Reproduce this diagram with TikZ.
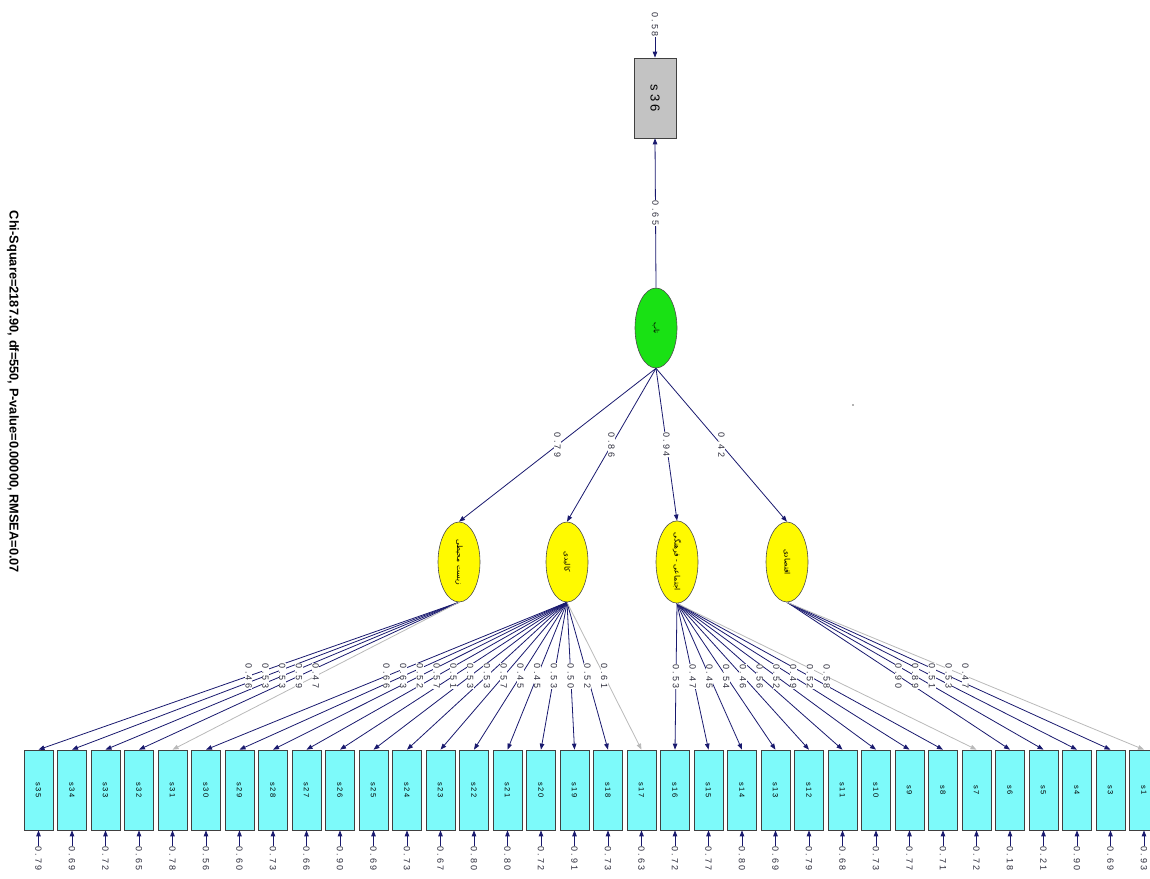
\documentclass[tikz,border=0pt]{standalone}
\usepackage{fontspec}
\usepackage{graphicx}
\setmainfont{Liberation Sans}
\newfontfamily\lis[LetterSpace=25]{Liberation Sans}
\newfontfamily\fa[Script=Arabic]{DejaVu Sans}
\TeXXeTstate=1
\usetikzlibrary{shapes.geometric,arrows.meta}

\definecolor{pathblue}{RGB}{25,25,110}
\definecolor{fixedgray}{RGB}{185,185,185}
\definecolor{latgreen}{RGB}{25,225,20}
\definecolor{latyellow}{RGB}{255,250,0}
\definecolor{obscyan}{RGB}{125,250,250}
\definecolor{obsgray}{RGB}{195,195,195}
\definecolor{numtext}{RGB}{45,45,60}

\newcommand{\boxfont}{\lis\fontsize{7.5}{7.5}\selectfont}
\newcommand{\latfont}{\fa\fontsize{7.5}{7.5}\selectfont}

\tikzset{
  free/.style={pathblue, line width=0.8pt, -{Triangle[length=6pt,width=4.5pt]}},
  fixd/.style={fixedgray, line width=0.8pt, -{Triangle[length=6pt,width=4.5pt]}},
  lab/.style={rotate=-90, fill=white, inner sep=0.5pt, text=numtext,
              font=\lis\fontsize{9}{9}\selectfont},
  lv/.style={ellipse, draw=black!70, line width=0.6pt, minimum width=42pt,
             minimum height=80pt, inner sep=0pt},
  ov/.style={rectangle, draw=black!75, line width=0.7pt, fill=obscyan,
             minimum width=29pt, minimum height=80pt, inner sep=0pt}
}

% indicator / factor / loading / error variance / path style
\def\indicators{35/env/0.46/0.79/free, 34/env/0.53/0.69/free, 33/env/0.53/0.72/free,
 32/env/0.59/0.65/free, 31/env/0.47/0.78/fixd,
 30/phys/0.66/0.56/free, 29/phys/0.63/0.60/free, 28/phys/0.52/0.73/free,
 27/phys/0.57/0.66/free, 26/phys/0.51/0.90/free, 25/phys/0.53/0.69/free,
 24/phys/0.53/0.73/free, 23/phys/0.57/0.67/free, 22/phys/0.45/0.80/free,
 21/phys/0.45/0.80/free, 20/phys/0.53/0.72/free, 19/phys/0.50/0.91/free,
 18/phys/0.52/0.73/free, 17/phys/0.61/0.63/fixd,
 16/soc/0.53/0.72/free, 15/soc/0.47/0.77/free, 14/soc/0.45/0.80/free,
 13/soc/0.54/0.69/free, 12/soc/0.46/0.79/free, 11/soc/0.56/0.68/free,
 10/soc/0.52/0.73/free, 9/soc/0.49/0.77/free, 8/soc/0.52/0.71/free,
 7/soc/0.58/0.72/fixd,
 6/eco/0.90/0.18/free, 5/eco/0.89/0.21/free, 4/eco/0.51/0.90/free,
 3/eco/0.53/0.69/free, 1/eco/0.47/0.93/fixd}

\begin{document}
\begin{tikzpicture}[x=1pt,y=-1pt]
\useasboundingbox (0,0) rectangle (1150,878);

% fit statistics
\node[rotate=-90, font=\bfseries\fontsize{12.8}{12.8}\selectfont] (fit) at (13,392)
  {Chi-Square=2187.90, df=550, P-value=0.00000, RMSEA=0.07};

% second-order factor and its single indicator
\node[lv, fill=latgreen] (core) at (656,328) {\rotatebox{-90}{\latfont\beginR تاب\endR}};
\node[rectangle, draw=black!75, line width=0.7pt, fill=obsgray, minimum width=42pt,
      minimum height=80pt, inner sep=0pt] (s36) at (655,98)
  {\rotatebox{-90}{\lis\fontsize{13}{13}\selectfont s36}};

% first-order factors
\node[lv, fill=latyellow] (env)  at (459,562) {\rotatebox{-90}{\latfont\beginR زیست محیطی\endR}};
\node[lv, fill=latyellow] (phys) at (567,562) {\rotatebox{-90}{\latfont\beginR کالبدی\endR}};
\node[lv, fill=latyellow] (soc)  at (677,562) {\rotatebox{-90}{\latfont\beginR اجتماعی - فرهنگی\endR}};
\node[lv, fill=latyellow] (eco)  at (787,562) {\rotatebox{-90}{\latfont\beginR اقتصادی\endR}};

% observed indicators with their error variances
\foreach \n/\f/\l/\e/\s [count=\i from 0] in \indicators {
  \node[ov] (b\n) at ({38.5+33.5*\i},790) {\rotatebox{-90}{\boxfont s\n}};
  \node[lab, anchor=west] (e\n) at ({38.5+33.5*\i},846) {\e};
  \draw[free] (e\n.west) -- (b\n.south);
  \draw[\s] (\f.south) -- (b\n.north);
}
% loading labels on top of all loading lines
\foreach \n/\f/\l/\e/\s in \indicators {
  \path (\f.south) -- node[lab] (l\n) {\l} (b\n.north);
}

% structural part
\node[lab, anchor=east] (e36) at (655,37) {0.58};
\draw[free] (e36.east) -- (s36.north);
\draw[free] (core.north) -- node[lab] (l36) {0.65} (s36.south);
\draw[free] (core.south) -- node[lab] (genv) {0.79} (env.north);
\draw[free] (core.south) -- node[lab] (gphys) {0.86} (phys.north);
\draw[free] (core.south) -- node[lab] (gsoc) {0.94} (soc.north);
\draw[free] (core.south) -- node[lab] (geco) {0.42} (eco.north);

\fill[black!60] (853,405) circle (0.9pt);
\end{tikzpicture}
\end{document}
